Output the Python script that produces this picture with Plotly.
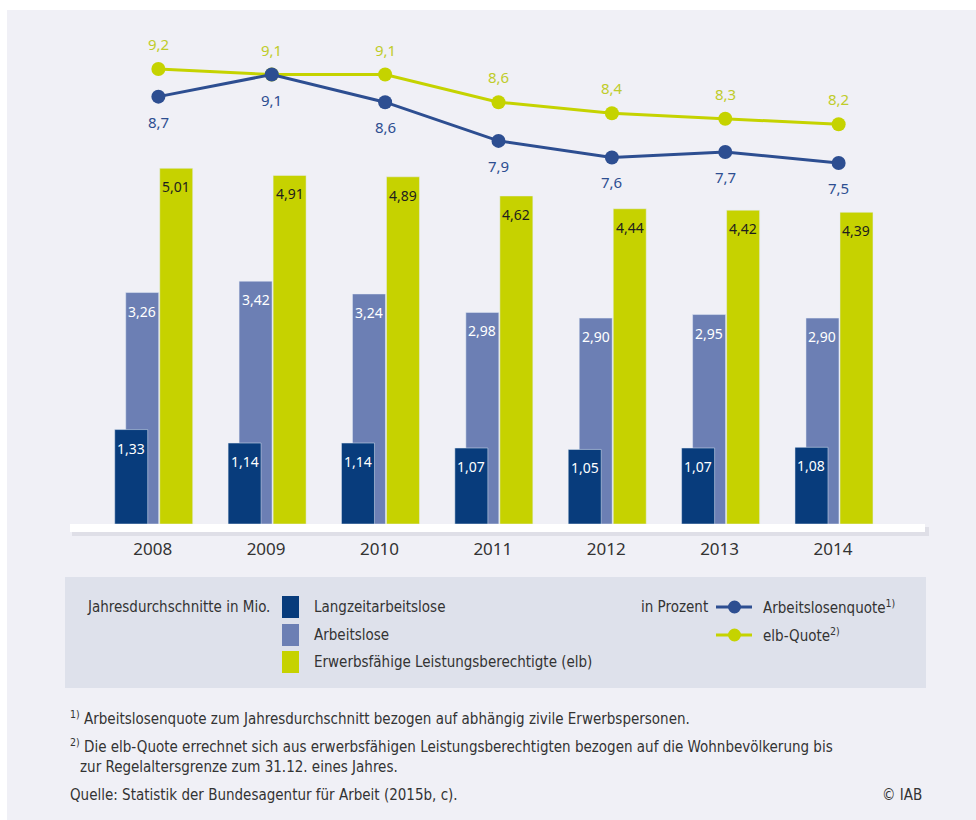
import plotly.graph_objects as go

# ---------------- data ----------------
years = [2008, 2009, 2010, 2011, 2012, 2013, 2014]
langzeit = [1.33, 1.14, 1.14, 1.07, 1.05, 1.07, 1.08]
arbeitslose = [3.26, 3.42, 3.24, 2.98, 2.90, 2.95, 2.90]
elb = [5.01, 4.91, 4.89, 4.62, 4.44, 4.42, 4.39]
alq = [8.7, 9.1, 8.6, 7.9, 7.6, 7.7, 7.5]
elb_quote = [9.2, 9.1, 9.1, 8.6, 8.4, 8.3, 8.2]

# ---------------- styling ----------------
W, H = 976, 820
ML, MR, MT, MB = 62, 41, 20, 296
PW, PH = W - ML - MR, H - MT - MB

C_DARK = "#083c7c"
C_LIGHT = "#6c7fb4"
C_GREEN = "#c6d200"
C_LBLUE = "#2d4e91"
C_LGREEN = "#c5d300"
BG = "#f0f0f6"
LEGBG = "#dee1eb"
NUMFONT = "Noto Sans, Open Sans, sans-serif"
NARROW = "Liberation Sans Narrow, DejaVu Sans Condensed, sans-serif"


def fx(px):
    return (px - ML) / PW


def fy(py):
    return (H - MB - py) / PH


def de(v, d):
    return f"{v:.{d}f}".replace(".", ",")


BW = 0.291
bar_specs = [
    (arbeitslose, -0.238, C_LIGHT, "white", "Arbeitslose"),
    (langzeit, -0.335, C_DARK, "white", "Langzeitarbeitslose"),
    (elb, 0.062, C_GREEN, "#1e1e1e", "elb"),
]

fig = go.Figure()
annotations = []
for vals, off, col, tcol, name in bar_specs:
    fig.add_trace(go.Bar(x=years, y=vals, width=BW, offset=off, marker_color=col, name=name))
    for x, v in zip(years, vals):
        annotations.append(dict(x=x + off + BW / 2, y=v, xref="x", yref="y", text=de(v, 2),
                                showarrow=False, yanchor="top", yshift=-7,
                                font=dict(color=tcol, size=14, family=NUMFONT)))

xl = [y + 0.05 for y in years]
fig.add_trace(go.Scatter(
    x=xl, y=elb_quote, yaxis="y2", mode="lines+markers",
    line=dict(color=C_LGREEN, width=3), marker=dict(size=14, color=C_LGREEN),
    name="elb-Quote"))
fig.add_trace(go.Scatter(
    x=xl, y=alq, yaxis="y2", mode="lines+markers",
    line=dict(color=C_LBLUE, width=3), marker=dict(size=14, color=C_LBLUE),
    name="Arbeitslosenquote"))

for x, v in zip(xl, elb_quote):
    annotations.append(dict(x=x, y=v, xref="x", yref="y2", text=de(v, 1), showarrow=False,
                            yshift=25, font=dict(color="#bfcc2a", size=15, family=NUMFONT)))
for x, v in zip(xl, alq):
    annotations.append(dict(x=x, y=v, xref="x", yref="y2", text=de(v, 1), showarrow=False,
                            yshift=-25, font=dict(color=C_LBLUE, size=15, family=NUMFONT)))

shapes = []
# white frame at left/top
shapes.append(dict(type="rect", xref="paper", yref="paper", x0=fx(0), x1=fx(7), y0=fy(0), y1=fy(H),
                   fillcolor="white", line_width=0, layer="below"))
shapes.append(dict(type="rect", xref="paper", yref="paper", x0=fx(0), x1=fx(W), y0=fy(0), y1=fy(10),
                   fillcolor="white", line_width=0, layer="below"))
# baseline band with shadow
shapes.append(dict(type="rect", xref="paper", yref="paper", x0=fx(72), x1=fx(929), y0=fy(527), y1=fy(536),
                   fillcolor="rgba(0,0,40,0.07)", line_width=0, layer="below"))
shapes.append(dict(type="rect", xref="paper", yref="paper", x0=fx(70), x1=fx(925), y0=fy(524), y1=fy(532),
                   fillcolor="white", line_width=0, layer="below"))
# legend box
shapes.append(dict(type="rect", xref="paper", yref="paper", x0=fx(65), x1=fx(926), y0=fy(577), y1=fy(688),
                   fillcolor=LEGBG, line_width=0, layer="below"))

leg_rows = [(607, "Langzeitarbeitslose", C_DARK), (635, "Arbeitslose", C_LIGHT),
            (662, "Erwerbsfähige Leistungsberechtigte (elb)", C_GREEN)]
for yc, lab, col in leg_rows:
    shapes.append(dict(type="rect", xref="paper", yref="paper", x0=fx(282), x1=fx(299),
                       y0=fy(yc - 11), y1=fy(yc + 11), fillcolor=col, line_width=0))
    annotations.append(dict(xref="paper", yref="paper", x=fx(312), y=fy(yc), text=lab, showarrow=False,
                            xanchor="left", yanchor="middle",
                            font=dict(size=15, color="#333333", family=NARROW)))
annotations.append(dict(xref="paper", yref="paper", x=fx(272), y=fy(607), text="Jahresdurchschnitte in Mio.",
                        showarrow=False, xanchor="right", yanchor="middle",
                        font=dict(size=15, color="#333333", family=NARROW)))
annotations.append(dict(xref="paper", yref="paper", x=fx(710), y=fy(607), text="in Prozent",
                        showarrow=False, xanchor="right", yanchor="middle",
                        font=dict(size=15, color="#333333", family=NARROW)))
for yc, lab, col in [(607, "Arbeitslosenquote<sup>1)</sup>", C_LBLUE), (635, "elb-Quote<sup>2)</sup>", C_LGREEN)]:
    shapes.append(dict(type="line", xref="paper", yref="paper", x0=fx(716), x1=fx(752), y0=fy(yc), y1=fy(yc),
                       line=dict(color=col, width=3)))
    shapes.append(dict(type="circle", xref="paper", yref="paper", x0=fx(728), x1=fx(741),
                       y0=fy(yc - 6.5), y1=fy(yc + 6.5), fillcolor=col, line_width=0))
    annotations.append(dict(xref="paper", yref="paper", x=fx(761), y=fy(yc), text=lab, showarrow=False,
                            xanchor="left", yanchor="middle",
                            font=dict(size=15, color="#333333", family=NARROW)))

# footnotes
foot = [
    (68, 718, "<sup>1)</sup> Arbeitslosenquote zum Jahresdurchschnitt bezogen auf abhängig zivile Erwerbspersonen."),
    (68, 746, "<sup>2)</sup> Die elb-Quote errechnet sich aus erwerbsfähigen Leistungsberechtigten bezogen auf die Wohnbevölkerung bis"),
    (78, 767, "zur Regelaltersgrenze zum 31.12. eines Jahres."),
    (68, 795, "Quelle: Statistik der Bundesagentur für Arbeit (2015b, c)."),
]
for x0, yc, t in foot:
    annotations.append(dict(xref="paper", yref="paper", x=fx(x0), y=fy(yc), text=t, showarrow=False,
                            xanchor="left", yanchor="middle",
                            font=dict(size=15, color="#333333", family=NARROW)))
annotations.append(dict(xref="paper", yref="paper", x=fx(924), y=fy(795), text="© IAB", showarrow=False,
                        xanchor="right", yanchor="middle",
                        font=dict(size=15, color="#333333", family=NARROW)))

fig.update_layout(
    width=W, height=H, margin=dict(l=ML, r=MR, t=MT, b=MB, pad=0),
    paper_bgcolor=BG, plot_bgcolor=BG, barmode="overlay", showlegend=False,
    xaxis=dict(range=[2007.2, 2014.9], tickvals=years, ticktext=[str(y) for y in years],
               showgrid=False, zeroline=False, showline=False, ticks="outside", ticklen=10,
               tickcolor="rgba(0,0,0,0)", tickfont=dict(size=17, color="#333333", family=NUMFONT)),
    yaxis=dict(range=[0, 504 / 71], visible=False, showgrid=False, zeroline=False),
    yaxis2=dict(range=[0.972, 10.086], overlaying="y", visible=False, showgrid=False, zeroline=False),
    annotations=annotations, shapes=shapes,
)

fig.write_html("out.html", config={"displayModeBar": False},
               post_script="document.body.style.margin='0';document.body.style.overflow='hidden';")
